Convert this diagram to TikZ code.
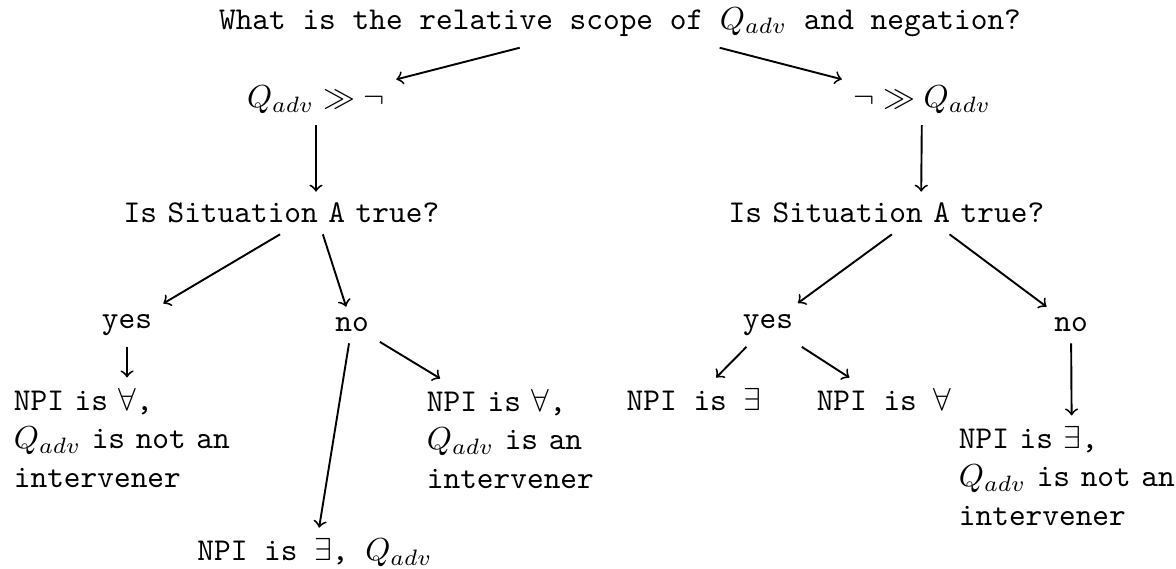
\documentclass[tikz,border=0pt]{standalone}
\begin{document}
\begin{tikzpicture}[x=0.31447pt,y=-0.31447pt,
  every node/.style={font=\ttfamily},
  leaf/.style={text width=2.5cm, align=left},
  question/.style={text width=121pt, align=left},
  edge/.style={->, line width=0.6pt}]
\useasboundingbox (0,0) rectangle (1176,568);
\node (top) at (620,22) {What is the relative scope of $Q_{adv}$ and negation?};
\node (l) at (316,100) {$Q_{adv} \gg \neg$};
\node (r) at (922,100) {$\neg \gg Q_{adv}$};
\node[question] (lq) at (316,213) {Is Situation A true?};
\node[question] (rq) at (921,213) {Is Situation A true?};
\node (ly) at (127,325) {yes};
\node (ln) at (352,325) {no};
\node (ry) at (768,325) {yes};
\node (rn) at (1071,325) {no};
\node[leaf] (lyl) at (127,438) {NPI is $\forall$,\\ $Q_{adv}$ is not an\\ intervener};
\node (lnm) at (315,553) {NPI is $\exists$, $Q_{adv}$};
\node[leaf] (lnr) at (540,439) {NPI is $\forall$,\\ $Q_{adv}$ is an\\ intervener};
\node (ryl) at (694,400) {NPI is $\exists$};
\node (ryr) at (884,400) {NPI is $\forall$};
\node[leaf] (rnl) at (1072,476) {NPI is $\exists$,\\ $Q_{adv}$ is not an\\ intervener};
\draw[edge] (top) -- (l);
\draw[edge] (top) -- (r);
\draw[edge] (l) -- (lq);
\draw[edge] (r) -- (rq);
\draw[edge] (lq) -- (ly);
\draw[edge] (lq) -- (ln);
\draw[edge] (rq) -- (ry);
\draw[edge] (rq) -- (rn);
\draw[edge] (ly) -- (lyl);
\draw[edge] (ln) -- (lnm);
\draw[edge] (ln) -- (lnr);
\draw[edge] (ry) -- (ryl);
\draw[edge] (ry) -- (ryr);
\draw[edge] (rn) -- (rnl);
\end{tikzpicture}
\end{document}
